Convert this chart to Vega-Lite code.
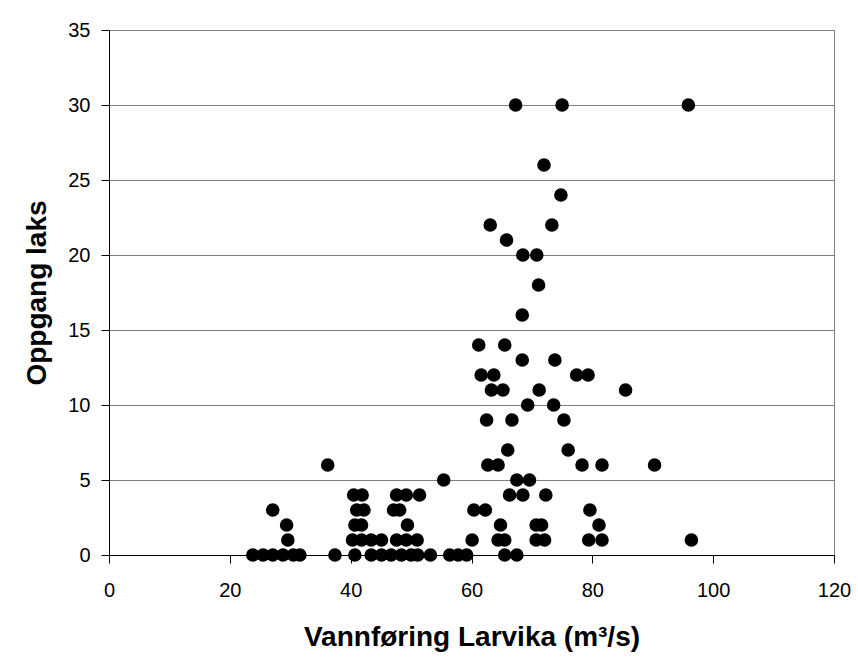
{
  "$schema": "https://vega.github.io/schema/vega-lite/v6.json",
  "width": 725,
  "height": 525,
  "autosize": {"type": "none"},
  "padding": {"left": 109, "top": 30, "right": 24, "bottom": 108},
  "background": "white",
  "config": {
    "view": {"stroke": "#808080", "strokeWidth": 1},
    "font": "Liberation Sans"
  },
  "data": {
    "values": [
      {"q": 67.3, "laks": 30}, {"q": 75.0, "laks": 30}, {"q": 95.9, "laks": 30},
      {"q": 72.0, "laks": 26},
      {"q": 74.8, "laks": 24},
      {"q": 63.1, "laks": 22}, {"q": 73.3, "laks": 22},
      {"q": 65.8, "laks": 21},
      {"q": 68.5, "laks": 20}, {"q": 70.8, "laks": 20},
      {"q": 71.1, "laks": 18},
      {"q": 68.4, "laks": 16},
      {"q": 61.2, "laks": 14}, {"q": 65.5, "laks": 14},
      {"q": 68.4, "laks": 13}, {"q": 73.8, "laks": 13},
      {"q": 61.6, "laks": 12}, {"q": 63.7, "laks": 12}, {"q": 77.4, "laks": 12}, {"q": 79.3, "laks": 12},
      {"q": 63.3, "laks": 11}, {"q": 65.2, "laks": 11}, {"q": 71.2, "laks": 11}, {"q": 85.5, "laks": 11},
      {"q": 69.3, "laks": 10}, {"q": 73.6, "laks": 10},
      {"q": 62.5, "laks": 9}, {"q": 66.7, "laks": 9}, {"q": 75.3, "laks": 9},
      {"q": 66.0, "laks": 7}, {"q": 76.0, "laks": 7},
      {"q": 36.2, "laks": 6}, {"q": 62.7, "laks": 6}, {"q": 64.4, "laks": 6}, {"q": 78.3, "laks": 6}, {"q": 81.6, "laks": 6}, {"q": 90.3, "laks": 6},
      {"q": 55.4, "laks": 5}, {"q": 67.5, "laks": 5}, {"q": 69.6, "laks": 5},
      {"q": 40.5, "laks": 4}, {"q": 41.9, "laks": 4}, {"q": 47.6, "laks": 4}, {"q": 49.2, "laks": 4}, {"q": 51.4, "laks": 4}, {"q": 66.3, "laks": 4}, {"q": 68.5, "laks": 4}, {"q": 72.3, "laks": 4},
      {"q": 27.1, "laks": 3}, {"q": 41.0, "laks": 3}, {"q": 42.2, "laks": 3}, {"q": 47.1, "laks": 3}, {"q": 48.1, "laks": 3}, {"q": 60.4, "laks": 3}, {"q": 62.3, "laks": 3}, {"q": 79.6, "laks": 3},
      {"q": 29.4, "laks": 2}, {"q": 40.7, "laks": 2}, {"q": 41.8, "laks": 2}, {"q": 49.4, "laks": 2}, {"q": 64.8, "laks": 2}, {"q": 70.7, "laks": 2}, {"q": 71.6, "laks": 2}, {"q": 81.1, "laks": 2},
      {"q": 29.6, "laks": 1}, {"q": 40.3, "laks": 1}, {"q": 41.8, "laks": 1}, {"q": 43.4, "laks": 1}, {"q": 45.1, "laks": 1}, {"q": 47.6, "laks": 1}, {"q": 49.2, "laks": 1}, {"q": 51.0, "laks": 1}, {"q": 60.1, "laks": 1}, {"q": 64.4, "laks": 1}, {"q": 65.5, "laks": 1}, {"q": 70.7, "laks": 1}, {"q": 72.1, "laks": 1}, {"q": 79.4, "laks": 1}, {"q": 81.6, "laks": 1}, {"q": 96.4, "laks": 1},
      {"q": 23.8, "laks": 0}, {"q": 25.5, "laks": 0}, {"q": 27.1, "laks": 0}, {"q": 28.8, "laks": 0}, {"q": 30.5, "laks": 0}, {"q": 31.6, "laks": 0}, {"q": 37.4, "laks": 0}, {"q": 40.7, "laks": 0}, {"q": 43.4, "laks": 0}, {"q": 45.1, "laks": 0}, {"q": 46.7, "laks": 0}, {"q": 48.4, "laks": 0}, {"q": 50.0, "laks": 0}, {"q": 51.1, "laks": 0}, {"q": 53.2, "laks": 0}, {"q": 56.4, "laks": 0}, {"q": 57.8, "laks": 0}, {"q": 59.2, "laks": 0}, {"q": 65.5, "laks": 0}, {"q": 67.5, "laks": 0}
    ]
  },
  "mark": {"type": "point", "shape": "circle", "filled": true, "color": "black", "opacity": 1, "size": 185},
  "encoding": {
    "x": {
      "field": "q", "type": "quantitative",
      "scale": {"domain": [0, 120], "nice": false, "zero": false},
      "axis": {
        "values": [0, 20, 40, 60, 80, 100, 120],
        "grid": false,
        "domainColor": "black", "tickColor": "black", "tickSize": 8,
        "labelFont": "Liberation Sans", "labelFontSize": 20, "labelColor": "black", "labelPadding": 17,
        "labelFlush": false,
        "title": "Vannføring Larvika (m³/s)",
        "titleFont": "Liberation Sans", "titleFontSize": 28, "titleFontWeight": "bold", "titleColor": "black", "titlePadding": 23
      }
    },
    "y": {
      "field": "laks", "type": "quantitative",
      "scale": {"domain": [0, 35], "nice": false},
      "axis": {
        "values": [0, 5, 10, 15, 20, 25, 30, 35],
        "grid": true, "gridColor": "#808080", "gridOpacity": 1,
        "domainColor": "black", "tickColor": "black", "tickSize": 8,
        "labelFont": "Liberation Sans", "labelFontSize": 20, "labelColor": "black", "labelPadding": 11,
        "labelFlush": false,
        "title": "Oppgang laks",
        "titleFont": "Liberation Sans", "titleFontSize": 28, "titleFontWeight": "bold", "titleColor": "black", "titlePadding": 16
      }
    }
  }
}
